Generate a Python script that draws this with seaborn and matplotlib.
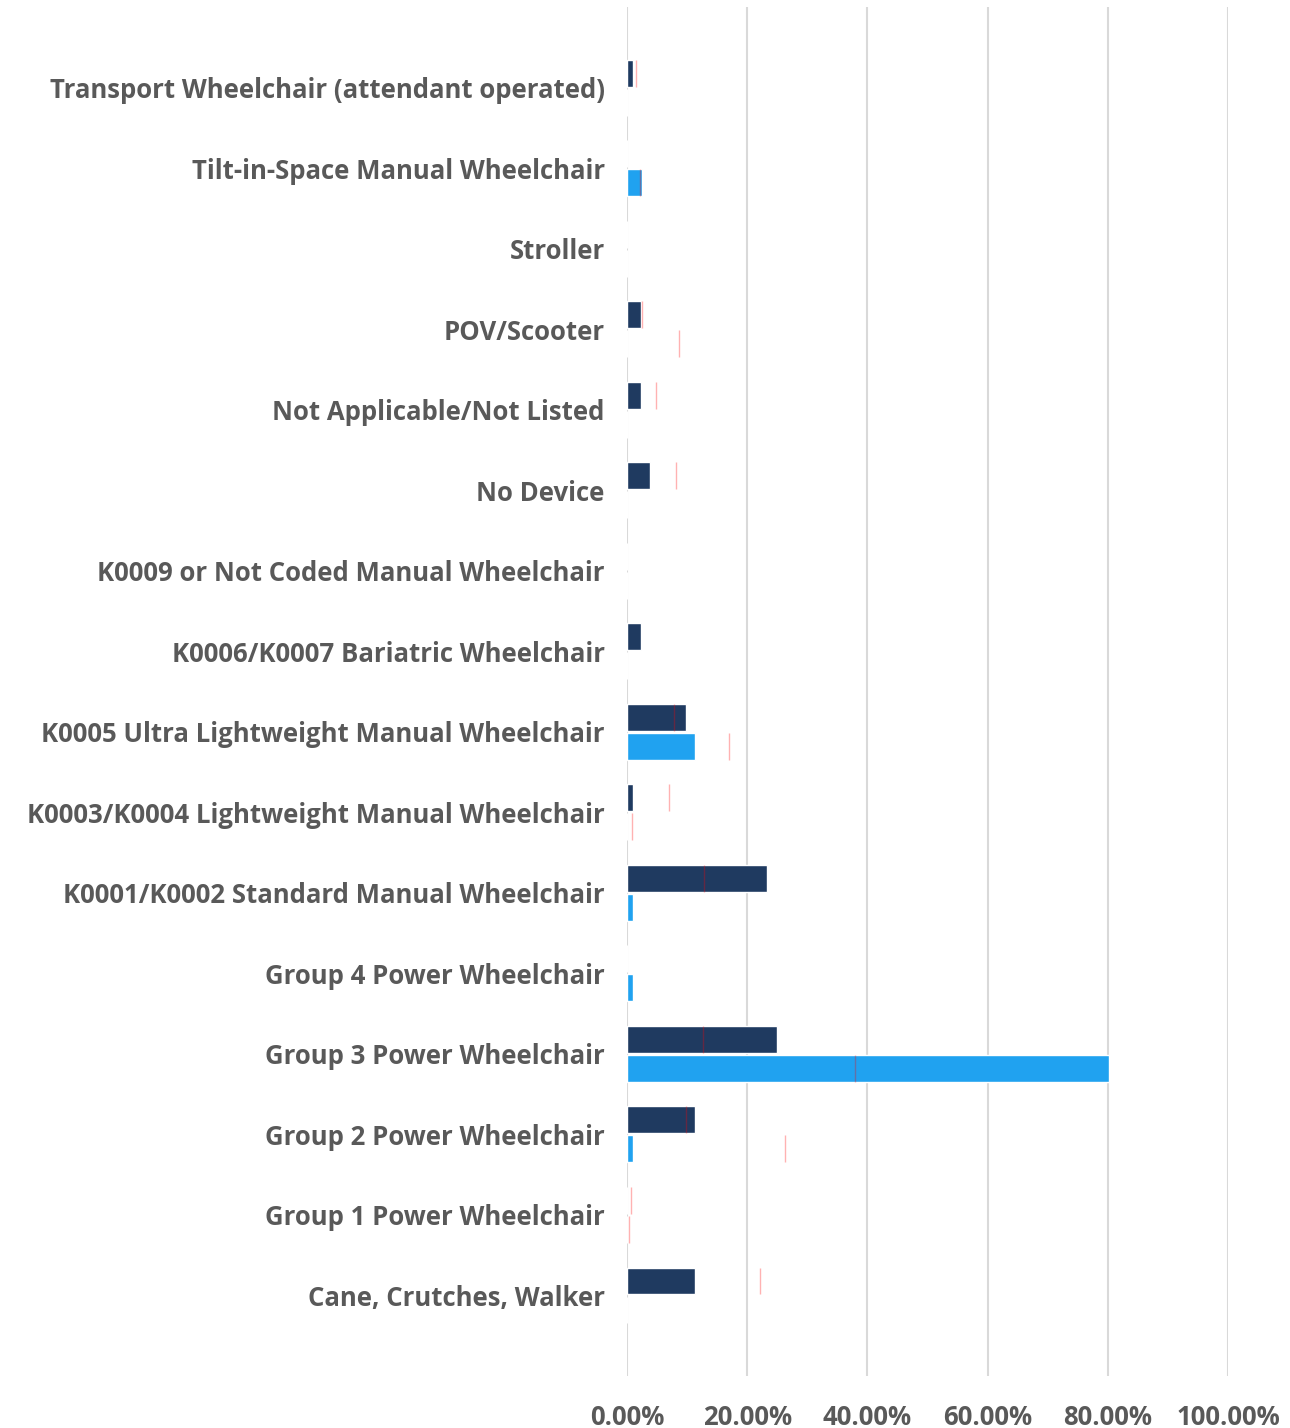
import pandas as pd
import matplotlib.pyplot as plt
import seaborn as sns
from matplotlib.ticker import FuncFormatter

# Device categories, top to bottom
categories = [
    "Transport Wheelchair (attendant operated)",
    "Tilt-in-Space Manual Wheelchair",
    "Stroller",
    "POV/Scooter",
    "Not Applicable/Not Listed",
    "No Device",
    "K0009 or Not Coded Manual Wheelchair",
    "K0006/K0007 Bariatric Wheelchair",
    "K0005 Ultra Lightweight Manual Wheelchair",
    "K0003/K0004 Lightweight Manual Wheelchair",
    "K0001/K0002 Standard Manual Wheelchair",
    "Group 4 Power Wheelchair",
    "Group 3 Power Wheelchair",
    "Group 2 Power Wheelchair",
    "Group 1 Power Wheelchair",
    "Cane, Crutches, Walker",
]
series = ["Series 1", "Series 2"]

# percentages
series1_pct = [1.0, 0, 0, 2.4, 2.4, 3.9, 0, 2.4, 9.9, 1.0, 23.3, 0, 24.9, 11.4, 0, 11.4]
series2_pct = [0, 2.5, 0, 0, 0, 0, 0, 0, 11.4, 0, 1.0, 1.0, 80.2, 1.0, 0, 0]

# thin red reference marks (None = no mark)
series1_ref = [1.5, None, None, 2.5, 4.9, 8.2, None, None, 7.9, 7.0, 12.9, None, 12.7, 9.9, 0.7, 22.2]
series2_ref = [None, 2.2, None, 8.7, None, None, None, None, 16.9, 0.9, None, None, 38.0, 26.3, 0.4, None]

df = pd.DataFrame({
    "Device": categories * 2,
    "Series": [series[0]] * len(categories) + [series[1]] * len(categories),
    "Percent": series1_pct + series2_pct,
})

text_color = "#595959"
plt.rcParams["font.family"] = ["Open Sans", "DejaVu Sans"]

fig = plt.figure(figsize=(12.9, 14.28), dpi=100)
ax = fig.add_axes([0.486, 0.0364, 0.466, 0.9587])

sns.barplot(data=df, y="Device", x="Percent", hue="Series", order=categories,
            hue_order=series, palette=["#1f3a60", "#20a2f0"], saturation=1,
            width=0.72, gap=0.07, edgecolor="white", linewidth=1.0,
            legend=False, ax=ax, zorder=3)

# reference marks drawn over each bar row
for container, refs in zip(ax.containers, [series1_ref, series2_ref]):
    for bar, ref in zip(container, refs):
        if ref is None:
            continue
        y0 = bar.get_y()
        ax.vlines(ref, y0, y0 + bar.get_height(), color="red", alpha=0.3,
                  linewidth=1.0, zorder=4)

ax.set_xlim(0, 100)
ax.set_ylim(len(categories), -1)
ax.set_xticks(range(0, 101, 20))
ax.xaxis.set_major_formatter(FuncFormatter(lambda v, p: f"{v:.2f}%"))
ax.grid(axis="x", color="#d9d9d9", linewidth=1.5, zorder=0)
ax.grid(axis="y", visible=False)
ax.set_axisbelow(True)
for s in ax.spines.values():
    s.set_visible(False)
ax.set_xlabel("")
ax.set_ylabel("")
ax.tick_params(axis="both", length=0, labelcolor=text_color, labelsize=18.5)
ax.tick_params(axis="y", pad=16)
ax.tick_params(axis="x", pad=20)
for lbl in ax.get_xticklabels() + ax.get_yticklabels():
    lbl.set_fontweight("bold")

fig.savefig("out.png", dpi=100)
